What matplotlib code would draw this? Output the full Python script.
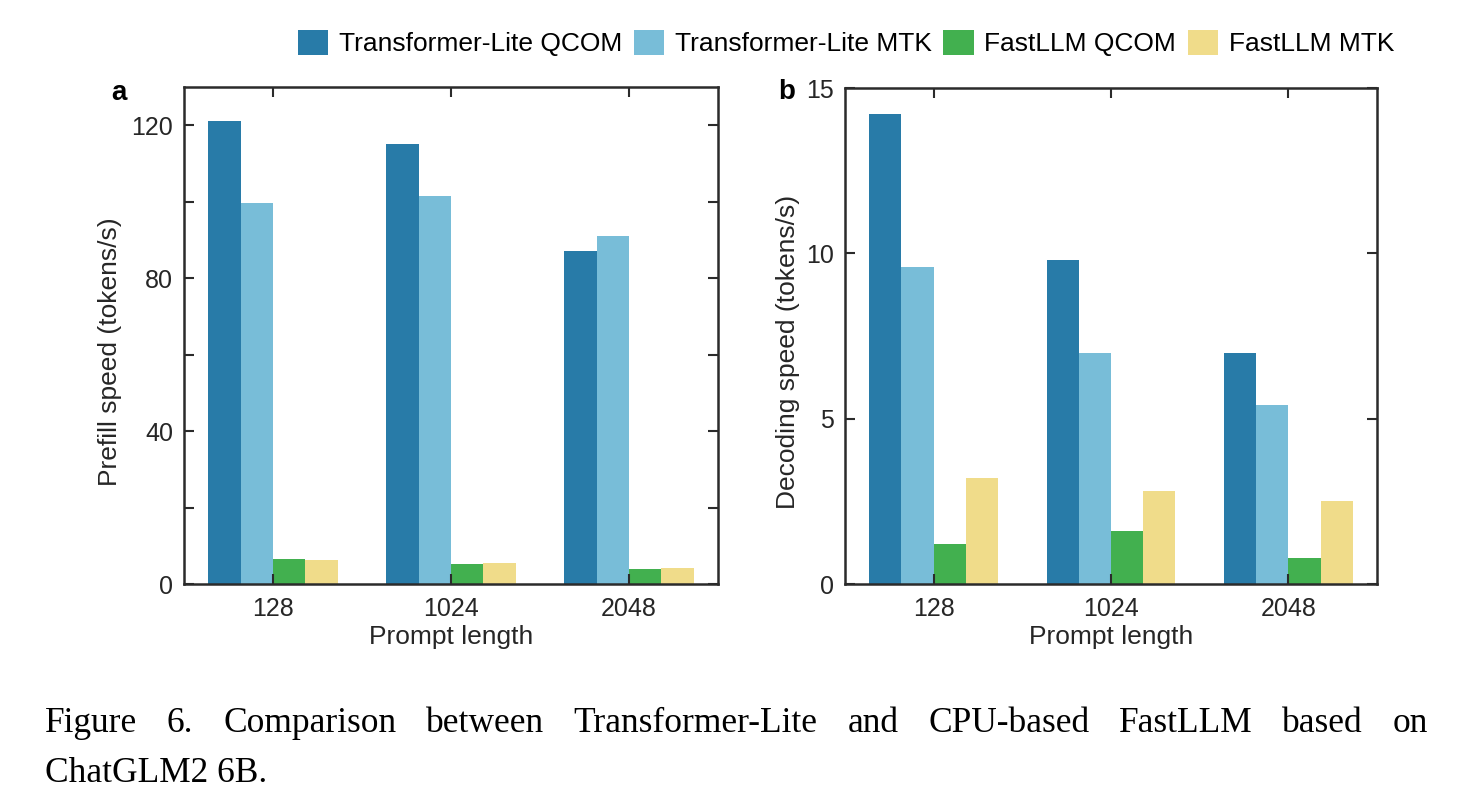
import numpy as np
import matplotlib
matplotlib.use("Agg")
import matplotlib.pyplot as plt

# ---- data ----
categories = ["128", "1024", "2048"]
series_names = ["Transformer-Lite QCOM", "Transformer-Lite MTK", "FastLLM QCOM", "FastLLM MTK"]
prefill_tl_qcom = [121.0, 115.1, 87.2]
prefill_tl_mtk = [99.7, 101.4, 90.9]
prefill_fl_qcom = [6.6, 5.2, 4.0]
prefill_fl_mtk = [6.3, 5.6, 4.3]
decode_tl_qcom = [14.2, 9.8, 7.0]
decode_tl_mtk = [9.6, 7.0, 5.4]
decode_fl_qcom = [1.2, 1.6, 0.8]
decode_fl_mtk = [3.2, 2.8, 2.5]
colors = ["#287BA8", "#78BDD8", "#42B04F", "#F0DC8A"]

plt.rcParams['font.family'] = ['Liberation Sans', 'DejaVu Sans']

W, H = 1474, 811
fig = plt.figure(figsize=(W / 100, H / 100), dpi=100)

def fx(px):
    return px / W

def fy(py):
    return 1 - py / H

axA = fig.add_axes([fx(184), fy(584), fx(718 - 184), (584 - 87) / H])
axB = fig.add_axes([fx(845), fy(584), fx(1377 - 845), (584 - 88) / H])

x = np.arange(1, len(categories) + 1)
bw = 4 / 5.5 / 4
spine_c = "#2b2b2b"
text_c = "#262626"

def draw(ax, data, ylim, major, minor, ylabel, label_x):
    handles = []
    for i, (vals, c, name) in enumerate(zip(data, colors, series_names)):
        h = ax.bar(x + (i - 1.5) * bw, vals, width=bw, color=c, label=name, linewidth=0)
        handles.append(h)
    ax.set_xlim(0.5, 3.5)
    ax.set_ylim(*ylim)
    ax.set_xticks(x)
    ax.set_xticklabels(categories)
    ax.set_yticks(major)
    ax.set_yticks(minor, minor=True)
    ax.tick_params(which='both', direction='in', top=True, right=True, length=7,
                   width=1.5, color=spine_c, labelsize=18, labelcolor=text_c, pad=8)
    ax.tick_params(axis='x', pad=9)
    for s in ax.spines.values():
        s.set_linewidth(1.8)
        s.set_color(spine_c)
    ax.set_xlabel("Prompt length", fontsize=19, color=text_c)
    ax.xaxis.set_label_coords(0.5, -0.083)
    ax.set_ylabel(ylabel, fontsize=19, color=text_c)
    ax.yaxis.set_label_coords(label_x, 0.468)
    return handles

hA = draw(axA, [prefill_tl_qcom, prefill_tl_mtk, prefill_fl_qcom, prefill_fl_mtk],
          (0, 130), [0, 40, 80, 120], [20, 60, 100], "Prefill speed (tokens/s)", -0.116)
draw(axB, [decode_tl_qcom, decode_tl_mtk, decode_fl_qcom, decode_fl_mtk],
     (0, 15), [0, 5, 10, 15], [], "Decoding speed (tokens/s)", -0.085)

fig.text(fx(118.5), fy(93), "a", fontsize=20, fontweight='bold', ha='center', va='center', color='black')
fig.text(fx(787), fy(92), "b", fontsize=20, fontweight='bold', ha='center', va='center', color='black')

fig.legend(handles=hA, labels=series_names, loc='center', bbox_to_anchor=(fx(846), fy(43)),
           ncol=4, frameon=False, fontsize=19, handlelength=1.15, handleheight=1.1,
           handletextpad=0.4, columnspacing=0.45, labelcolor='black')

# ---- caption (justified first line) ----
cap_line1 = "Figure 6. Comparison between Transformer-Lite and CPU-based FastLLM based on"
cap_line2 = "ChatGLM2 6B."
cap_font = dict(fontsize=25.5, family=['Liberation Serif', 'DejaVu Serif'], color='black')
renderer = fig.canvas.get_renderer()
words = cap_line1.split()
left_px, right_px = 45, 1428
texts = [fig.text(0, fy(732), w, va='baseline', ha='left', **cap_font) for w in words]
widths = [t.get_window_extent(renderer).width for t in texts]
gap = (right_px - left_px - sum(widths)) / (len(words) - 1)
pos = left_px
for t, wd in zip(texts, widths):
    t.set_x(fx(pos))
    pos += wd + gap
fig.text(fx(45), fy(782), cap_line2, va='baseline', ha='left', **cap_font)

fig.savefig("out.png", dpi=100)
